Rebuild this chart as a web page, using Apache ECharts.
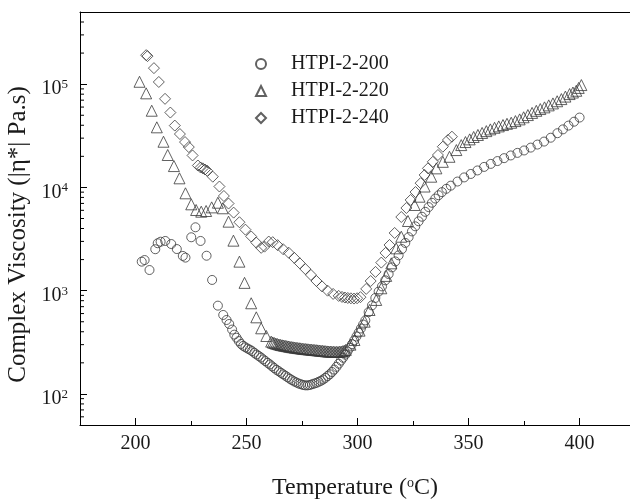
<!DOCTYPE html>
<html>
<head>
<meta charset="utf-8">
<script src="https://cdn.jsdelivr.net/npm/echarts@6/dist/echarts.min.js"></script>
<style>
  html, body { margin: 0; padding: 0; background: #fff; }
  #chart { width: 630px; height: 500px; }
</style>
</head>
<body>
<div id="chart"></div>
<script>
const FONT = 'Liberation Serif';
const INK = '#1a1a1a';
const MARK = '#3a3a3a';

const seriesNames = ['HTPI-2-200', 'HTPI-2-220', 'HTPI-2-240'];

// [temperature (°C), complex viscosity (Pa.s)]
const data200 = [
  [202.8, 1910], [204.1, 1980], [206.3, 1585], [208.9, 2520], [210.0, 2880], [211.3, 2980],
  [213.4, 3030], [216.1, 2830], [218.6, 2530], [221.3, 2170], [222.5, 2090], [225.1, 3290],
  [227.0, 4110], [229.3, 3030], [232.0, 2180], [234.5, 1270], [237.1, 716], [239.5, 582],
  [241.0, 520], [242.2, 476], [243.5, 420], [244.5, 375], [245.5, 350], [246.5, 325],
  [247.5, 305], [248.5, 292], [249.5, 283], [250.5, 275], [251.5, 268], [252.5, 260],
  [253.5, 250], [254.5, 241], [255.5, 233], [256.5, 225], [257.5, 216], [258.5, 208],
  [259.5, 200], [260.5, 193], [261.5, 185], [262.5, 178], [263.5, 171], [264.5, 166],
  [265.5, 160], [266.5, 155], [267.5, 150], [268.5, 145], [269.5, 140], [270.5, 136],
  [271.5, 132], [272.5, 129], [273.5, 126], [274.5, 124], [275.5, 122], [276.5, 121],
  [277.5, 121], [278.5, 122], [279.5, 124], [280.5, 126], [281.5, 128], [282.5, 131],
  [283.5, 134], [284.5, 138], [285.5, 143], [286.5, 149], [287.5, 155], [288.5, 163],
  [289.5, 172], [290.5, 183], [291.5, 196], [292.5, 210], [293.5, 224], [294.5, 240],
  [295.5, 258], [296.5, 280], [297.5, 303], [298.5, 330], [299.5, 360], [300.5, 392],
  [301.5, 430], [302.5, 470], [303.5, 515], [305.0, 620], [306.5, 720], [308.0, 850],
  [309.5, 980], [311.0, 1100], [312.5, 1260], [314.0, 1450], [315.5, 1680], [317.0, 1920],
  [318.5, 2200], [320.0, 2530], [321.5, 2900], [323.0, 3300], [324.5, 3750], [326.0, 4200],
  [327.5, 4700], [329.0, 5200], [330.5, 5800], [332.0, 6450], [333.5, 7100], [335.0, 7800],
  [336.5, 8400], [338.0, 9000], [340.0, 9700], [342.0, 10400], [345, 11400], [348, 12500],
  [351, 13500], [354, 14600], [357, 15800], [360, 16900], [363, 18000], [366, 19200],
  [369, 20400], [372, 21600], [375, 22800], [378, 24300], [381, 26000], [384, 27800],
  [387, 30300], [390, 33500], [392.5, 36500], [395, 39700], [397.5, 43300], [400, 47500]
];

const data220 = [
  [201.8, 105500], [204.8, 81500], [207.3, 55300], [209.6, 38200], [212.6, 27700], [214.5, 20600],
  [217.3, 16100], [219.8, 12250], [222.5, 8770], [225.1, 6860], [227.3, 6040], [229.6, 5820],
  [231.8, 5910], [234.3, 6410], [237.1, 7110], [239.3, 6280], [241.9, 4660], [244.1, 3050],
  [246.8, 1910], [249.1, 1190], [252.1, 755], [254.4, 552], [256.6, 432], [258.9, 364],
  [261.1, 321], [261.8, 315], [262.5, 311], [263.2, 307], [263.9, 304], [264.6, 301],
  [265.3, 298], [266.0, 296], [266.7, 294], [267.4, 292], [268.1, 290], [268.8, 288],
  [269.5, 286], [270.2, 284], [270.9, 283], [271.6, 281], [272.3, 280], [273.0, 278],
  [273.7, 277], [274.4, 276], [275.1, 274], [275.8, 273], [276.5, 272], [277.2, 271],
  [277.9, 270], [278.6, 269], [279.3, 268], [280.0, 267], [280.7, 266], [281.4, 265],
  [282.1, 264], [282.8, 263], [283.5, 262], [284.2, 261], [284.9, 260], [285.6, 259],
  [286.3, 258], [287.0, 257], [287.7, 257], [288.4, 256], [289.1, 256], [289.8, 255],
  [290.5, 255], [291.2, 255], [291.9, 256], [292.6, 257], [293.3, 259], [294.0, 262],
  [294.7, 267], [296.8, 300], [298.6, 333], [300.9, 410], [303.2, 501], [305.4, 650],
  [308.4, 813], [310.7, 1055], [312.9, 1390], [315.2, 1840], [317.4, 2570], [319.7, 3330],
  [322.7, 4730], [325.7, 6760], [327.9, 8130], [330.2, 10200], [333.2, 12700], [335.5, 15300],
  [338.4, 17700], [341.4, 19800], [344.5, 23000], [346.7, 25700], [348.6, 27500], [350.5, 29200],
  [352.3, 30800], [354.2, 32200], [356.1, 33700], [358.0, 35100], [359.8, 36500], [361.7, 37800],
  [363.6, 39000], [365.5, 40200], [367.3, 41300], [369.2, 42300], [371.1, 43900], [373.0, 45600],
  [374.8, 47800], [376.7, 50200], [378.6, 52700], [380.5, 55200], [382.3, 57400], [384.2, 59600],
  [386.1, 62300], [388.0, 65100], [389.9, 68300], [391.8, 71700], [393.6, 75800], [395.5, 80200],
  [397.0, 83000], [398.5, 86300], [399.6, 92000], [400.8, 98000]
];

const data240 = [
  [204.8, 191000], [205.4, 187000], [208.3, 143000], [210.5, 105000], [213.3, 72100], [215.7, 53100],
  [217.7, 39700], [220.0, 32900], [222.3, 27500], [224.0, 24600], [225.7, 20400], [228.1, 16300],
  [229.3, 15600], [230.3, 15300], [231.3, 14900], [232.3, 14500], [234.8, 12700], [237.8, 10200],
  [239.8, 8260], [241.9, 6980], [244.2, 5700], [246.8, 4600], [249.5, 3900], [252.1, 3350],
  [254.4, 2920], [256.6, 2600], [258.1, 2670], [260.0, 2990], [261.8, 2950], [264.0, 2760],
  [266.5, 2520], [269.0, 2330], [271.5, 2080], [274.0, 1840], [276.5, 1620], [279.0, 1420],
  [281.5, 1240], [284.0, 1100], [286.5, 1000], [289.0, 930], [291.5, 890], [293.0, 870],
  [294.3, 858], [295.6, 849], [297.0, 843], [298.4, 838], [299.8, 845], [301.3, 865],
  [303.9, 1040], [305.9, 1240], [308.1, 1520], [310.7, 1870], [312.6, 2320], [314.4, 2770],
  [316.7, 3620], [319.7, 5170], [322.0, 6320], [323.9, 7560], [326.1, 9020], [328.4, 11000],
  [330.2, 13200], [331.7, 15300], [333.9, 17700], [336.2, 20600], [338.4, 24800], [340.7, 28800],
  [342.5, 31000]
];

// axis ranges and tick values (the plot is cut off just past 420 on the right)
const xMin = 175;
const xMax = 422.7;
const yMin = 50;
const yMax = 500000;
const yMinorTicks = [
  60, 70, 80, 90,
  200, 300, 400, 500, 600, 700, 800, 900,
  2000, 3000, 4000, 5000, 6000, 7000, 8000, 9000,
  20000, 30000, 40000, 50000, 60000, 70000, 80000, 90000,
  200000, 300000, 400000
];

const chart = echarts.init(document.getElementById('chart'), null, { renderer: 'canvas' });

function markerSeries(name, symbol, size, data) {
  return {
    name: name,
    type: 'scatter',
    xAxisIndex: 0,
    symbol: symbol,
    symbolSize: size,
    data: data,
    itemStyle: { color: 'rgba(255,255,255,0)', borderColor: MARK, borderWidth: 1 },
    emphasis: { disabled: true },
    z: 3,
  };
}

const option = {
  animation: false,
  backgroundColor: '#fff',
  grid: {
    left: 80,
    top: 12,
    right: 0,
    bottom: 75,
    outerBoundsMode: 'none',
    containLabel: false,
  },
  legend: {
    data: seriesNames,
    orient: 'vertical',
    left: 250,
    top: 49,
    itemWidth: 10,
    itemHeight: 10,
    itemGap: 7,
    selectedMode: false,
    textStyle: { fontFamily: FONT, fontSize: 20, color: INK, padding: [0, 0, 0, 20] },
  },
  xAxis: [
    {
      type: 'value',
      min: xMin,
      max: xMax,
      splitNumber: 5,
      name: 'Temperature ({s|o}C)',
      nameLocation: 'middle',
      nameGap: 51,
      nameTextStyle: {
        fontFamily: FONT,
        fontSize: 24,
        color: INK,
        rich: { s: { fontFamily: FONT, fontSize: 14, color: INK, verticalAlign: 'top' } },
      },
      axisLine: { lineStyle: { color: '#000', width: 1 } },
      axisTick: { inside: true, length: 7, lineStyle: { color: '#000' } },
      minorTick: { show: true, splitNumber: 2, length: 4, lineStyle: { color: '#000' } },
      axisLabel: {
        fontFamily: FONT,
        fontSize: 20,
        color: INK,
        margin: 9,
        showMinLabel: false,
        showMaxLabel: false,
        formatter: function (v) {
          return v % 50 === 0 ? String(v) : '';
        },
      },
      splitLine: { show: false },
    },
    {
      // top frame line only
      type: 'value',
      position: 'top',
      min: xMin,
      max: xMax,
      axisLine: { show: true, onZero: false, lineStyle: { color: '#000', width: 1 } },
      axisTick: { show: false },
      axisLabel: { show: false },
      splitLine: { show: false },
    },
  ],
  yAxis: {
    type: 'log',
    logBase: 10,
    min: yMin,
    max: yMax,
    name: 'Complex Viscosity (|η*| Pa.s)',
    nameLocation: 'middle',
    nameGap: 38,
    nameTextStyle: { fontFamily: FONT, fontSize: 25, color: INK, padding: [0, 32, 0, 0] },
    axisLine: { lineStyle: { color: '#000', width: 1 } },
    axisTick: { inside: true, length: 7, lineStyle: { color: '#000' } },
    axisLabel: {
      margin: 12,
      formatter: function (v) {
        const e = Math.log10(v);
        const r = Math.round(e);
        if (Math.abs(e - r) > 1e-6) {
          return '';
        }
        return '{b|10}{s|' + r + '}';
      },
      rich: {
        b: { fontFamily: FONT, fontSize: 20, color: INK, padding: [10, 0, 0, 0] },
        s: { fontFamily: FONT, fontSize: 13, color: INK, verticalAlign: 'top', padding: [9, 0, 0, 0] },
      },
    },
    splitLine: { show: false },
  },
  series: [
    markerSeries(seriesNames[0], 'circle', 9, data200),
    markerSeries(seriesNames[1], 'triangle', 11, data220),
    markerSeries(seriesNames[2], 'diamond', 11, data240),
    {
      // log-axis minor ticks (2..9 per decade)
      name: 'minor',
      type: 'custom',
      silent: true,
      clip: false,
      z: 5,
      data: yMinorTicks.map(function (v) { return [xMin, v]; }),
      renderItem: function (params, api) {
        const p = api.coord([api.value(0), api.value(1)]);
        return {
          type: 'line',
          shape: { x1: p[0], y1: p[1], x2: p[0] + 4, y2: p[1] },
          style: { stroke: '#000', lineWidth: 1 },
        };
      },
    },
  ],
};

chart.setOption(option);
</script>
</body>
</html>
